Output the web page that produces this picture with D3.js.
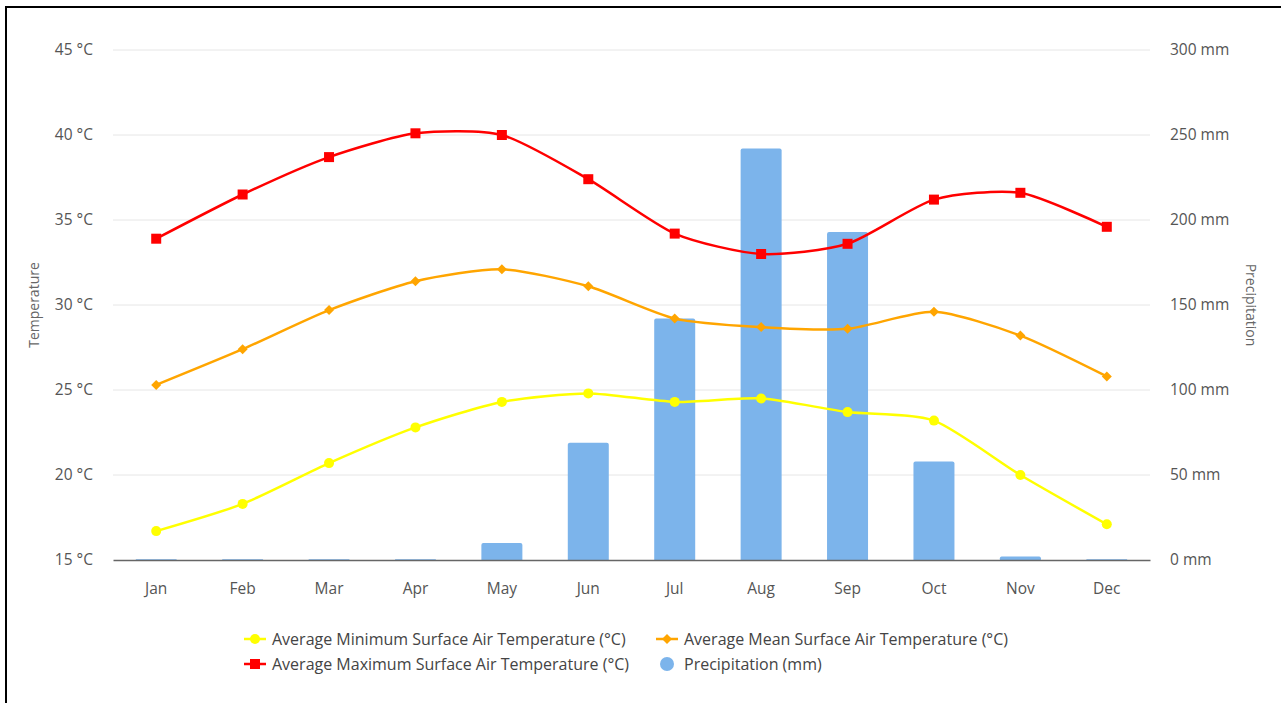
<!DOCTYPE html>
<html>
<head>
<meta charset="utf-8">
<script src="https://cdn.jsdelivr.net/npm/d3@7"></script>
<style>
html,body{margin:0;padding:0;background:#fff;}
svg{display:block;font-family:"Open Sans","Noto Sans",sans-serif;}
</style>
</head>
<body>
<svg id="chart" width="1281" height="703"></svg>
<script>
const months = ["Jan","Feb","Mar","Apr","May","Jun","Jul","Aug","Sep","Oct","Nov","Dec"];
const minTemp = [16.7,18.3,20.7,22.8,24.3,24.8,24.3,24.5,23.7,23.2,20.0,17.1];
const meanTemp = [25.3,27.4,29.7,31.4,32.1,31.1,29.2,28.7,28.6,29.6,28.2,25.8];
const maxTemp = [33.9,36.5,38.7,40.1,40.0,37.4,34.2,33.0,33.6,36.2,36.6,34.6];
const precip = [0.4,0.4,0.4,0.4,10,69,142,242,193,58,2,0.4];
const tempTicks = [15,20,25,30,35,40,45];
const precipTicks = [0,50,100,150,200,250,300];
const seriesNames = ["Average Minimum Surface Air Temperature (°C)","Average Mean Surface Air Temperature (°C)","Average Maximum Surface Air Temperature (°C)","Precipitation (mm)"];

const svg = d3.select("#chart");
const L = 113, R = 1150, T = 50, B = 560;

// frame border
svg.append("path").attr("d","M6,703 V7 H1281").attr("fill","none").attr("stroke","#000").attr("stroke-width",2);

const x = d3.scaleBand().domain(months).range([L,R]);
const yT = d3.scaleLinear().domain([15,45]).range([B,T]);
const yP = d3.scaleLinear().domain([0,300]).range([B,T]);

// gridlines
svg.append("g").selectAll("line").data(tempTicks.filter(t=>t>15)).join("line")
  .attr("x1",L).attr("x2",R).attr("y1",d=>yT(d)).attr("y2",d=>yT(d))
  .attr("stroke","#e6e6e6").attr("stroke-width",1);

// left axis labels
const axL = svg.append("g").attr("transform",`translate(${L},0)`)
  .call(d3.axisLeft(yT).tickValues(tempTicks).tickFormat(d=>d+" °C").tickSize(0).tickPadding(20));
axL.select(".domain").remove();
axL.selectAll("text").attr("font-size",15.5).attr("fill","#555").attr("font-family","Open Sans, Noto Sans, sans-serif");

const axR = svg.append("g").attr("transform",`translate(${R},0)`)
  .call(d3.axisRight(yP).tickValues(precipTicks).tickFormat(d=>d+" mm").tickSize(0).tickPadding(20));
axR.select(".domain").remove();
axR.selectAll("text").attr("font-size",15.5).attr("fill","#555").attr("font-family","Open Sans, Noto Sans, sans-serif");

// axis titles
svg.append("text").attr("transform","translate(39,305) rotate(-90)").attr("text-anchor","middle")
  .attr("font-size",14).attr("fill","#666").text("Temperature");
svg.append("text").attr("transform","translate(1246,305) rotate(90)").attr("text-anchor","middle")
  .attr("font-size",14).attr("fill","#666").text("Precipitation");

// bars
const bw = 41;
svg.append("g").selectAll("path").data(precip).join("path")
  .attr("d",(d,i)=>{
    const cx = x(months[i]) + x.bandwidth()/2;
    const x0 = cx - bw/2, y0 = yP(d), h = B - y0;
    const r = Math.min(2, h/2);
    return `M${x0},${B} V${y0+r} Q${x0},${y0} ${x0+r},${y0} H${x0+bw-r} Q${x0+bw},${y0} ${x0+bw},${y0+r} V${B} Z`;
  })
  .attr("fill","#7cb4eb");

// x axis
const axB = svg.append("g").attr("transform",`translate(0,${B})`)
  .call(d3.axisBottom(x).tickSize(0).tickPadding(23));
axB.select(".domain").attr("stroke","#666").attr("stroke-width",1.5);
axB.selectAll("text").attr("font-size",15.5).attr("fill","#555").attr("font-family","Open Sans, Noto Sans, sans-serif");

const cxOf = i => x(months[i]) + x.bandwidth()/2;
const line = d3.line().x((d,i)=>cxOf(i)).y(d=>yT(d)).curve(d3.curveCardinal.tension(0.3));

function drawSeries(data,color,shape){
  svg.append("path").datum(data).attr("d",line).attr("fill","none").attr("stroke",color).attr("stroke-width",2.5);
  const g = svg.append("g");
  data.forEach((d,i)=>{
    drawMarker(g, cxOf(i), yT(d), color, shape);
  });
}
function drawMarker(g,cx,cy,color,shape){
  if(shape==="circle") g.append("circle").attr("cx",cx).attr("cy",cy).attr("r",5).attr("fill",color);
  else if(shape==="diamond") g.append("path").attr("d",`M${cx},${cy-5} L${cx+5},${cy} L${cx},${cy+5} L${cx-5},${cy} Z`).attr("fill",color);
  else if(shape==="square") g.append("rect").attr("x",cx-5).attr("y",cy-5).attr("width",10).attr("height",10).attr("fill",color);
}
drawSeries(minTemp,"#ffff00","circle");
drawSeries(meanTemp,"#ffa500","diamond");
drawSeries(maxTemp,"#ff0000","square");

// legend
const legend = [
  {name:seriesNames[0],color:"#ffff00",shape:"circle",x:255,y:639},
  {name:seriesNames[1],color:"#ffa500",shape:"diamond",x:667,y:639},
  {name:seriesNames[2],color:"#ff0000",shape:"square",x:255,y:664},
  {name:seriesNames[3],color:"#7cb4eb",shape:"bigcircle",x:667,y:664}
];
const lg = svg.append("g");
legend.forEach(l=>{
  if(l.shape==="bigcircle"){
    lg.append("circle").attr("cx",l.x).attr("cy",l.y).attr("r",7).attr("fill",l.color);
  } else {
    lg.append("line").attr("x1",l.x-11).attr("x2",l.x+11).attr("y1",l.y).attr("y2",l.y).attr("stroke",l.color).attr("stroke-width",2.5);
    drawMarker(lg,l.x,l.y,l.color,l.shape);
  }
  lg.append("text").attr("x",l.x+17).attr("y",l.y).attr("dy","0.35em").attr("font-size",16).attr("fill","#444").text(l.name);
});
</script>
</body>
</html>
